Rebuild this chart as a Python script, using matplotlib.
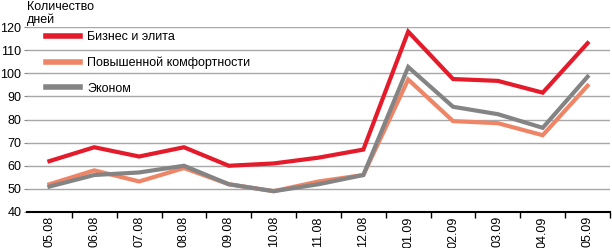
import matplotlib
matplotlib.use("Agg")
import matplotlib.pyplot as plt
from matplotlib.ticker import FixedLocator

plt.rcParams['font.family'] = ['Liberation Sans', 'DejaVu Sans']

dates = ["05.08", "06.08", "07.08", "08.08", "09.08", "10.08", "11.08", "12.08",
         "01.09", "02.09", "03.09", "04.09", "05.09"]
business = [62, 68, 64, 68, 60, 61, 63.5, 67, 118, 97.5, 96.7, 91.6, 113]
comfort = [52, 58, 53.2, 59, 52, 49, 53.2, 56, 97.3, 79.3, 78.4, 73.2, 94.6]
economy = [51, 56, 57.1, 60, 52, 49, 52, 56, 102.7, 85.5, 82.3, 76.4, 98.5]
series_names = ["Бизнес и элита", "Повышенной комфортности", "Эконом"]
colors = ["#E31B2A", "#EE8567", "#848484"]
yticks = [40, 50, 60, 70, 80, 90, 100, 110, 120]

W, H = 612, 248
fig = plt.figure(figsize=(W / 100, H / 100), dpi=100)
ax = fig.add_axes([27 / W, 1 - 212 / H, (610 - 27) / W, (212 - 27) / H])

x = list(range(len(dates)))
for vals, name, c in zip([business, comfort, economy], series_names, colors):
    ax.plot(x, vals, color=c, lw=3.0, label=name, solid_joinstyle='miter', zorder=3)

ax.set_xlim(-0.5, len(dates) - 0.5)
ax.set_ylim(40, 120)
ax.set_yticks(yticks)
ax.tick_params(axis='y', length=2.5, width=0.8, color='#888888', labelsize=9, pad=1.5)
for t in yticks[1:]:
    ax.axhline(t, color='#A8A8A8', lw=1.0, zorder=1)

ax.set_xticks(x)
ax.set_xticklabels(dates, rotation=90, fontsize=9)
ax.tick_params(axis='x', which='major', length=0, pad=3)
ax.xaxis.set_minor_locator(FixedLocator([i + 0.5 for i in range(len(dates))]))
ax.tick_params(axis='x', which='minor', length=4, width=1, color='black')

for s in ['top', 'right', 'left']:
    ax.spines[s].set_visible(False)
ax.spines['bottom'].set_color('black')
ax.spines['bottom'].set_linewidth(1.5)

fig.text(27 / W, 1 - 1 / H, "Количество\nдней", fontsize=9, va='top', ha='left', linespacing=1.05)

leg = ax.legend(loc='upper left', bbox_to_anchor=(16 / 583, 1 - 1 / 185), frameon=False,
                fontsize=9, handlelength=2.7, handletextpad=0.6, labelspacing=1.08,
                borderaxespad=0.0, borderpad=0.25)
for line in leg.get_lines():
    line.set_linewidth(4)

fig.savefig("out.png", dpi=100)
